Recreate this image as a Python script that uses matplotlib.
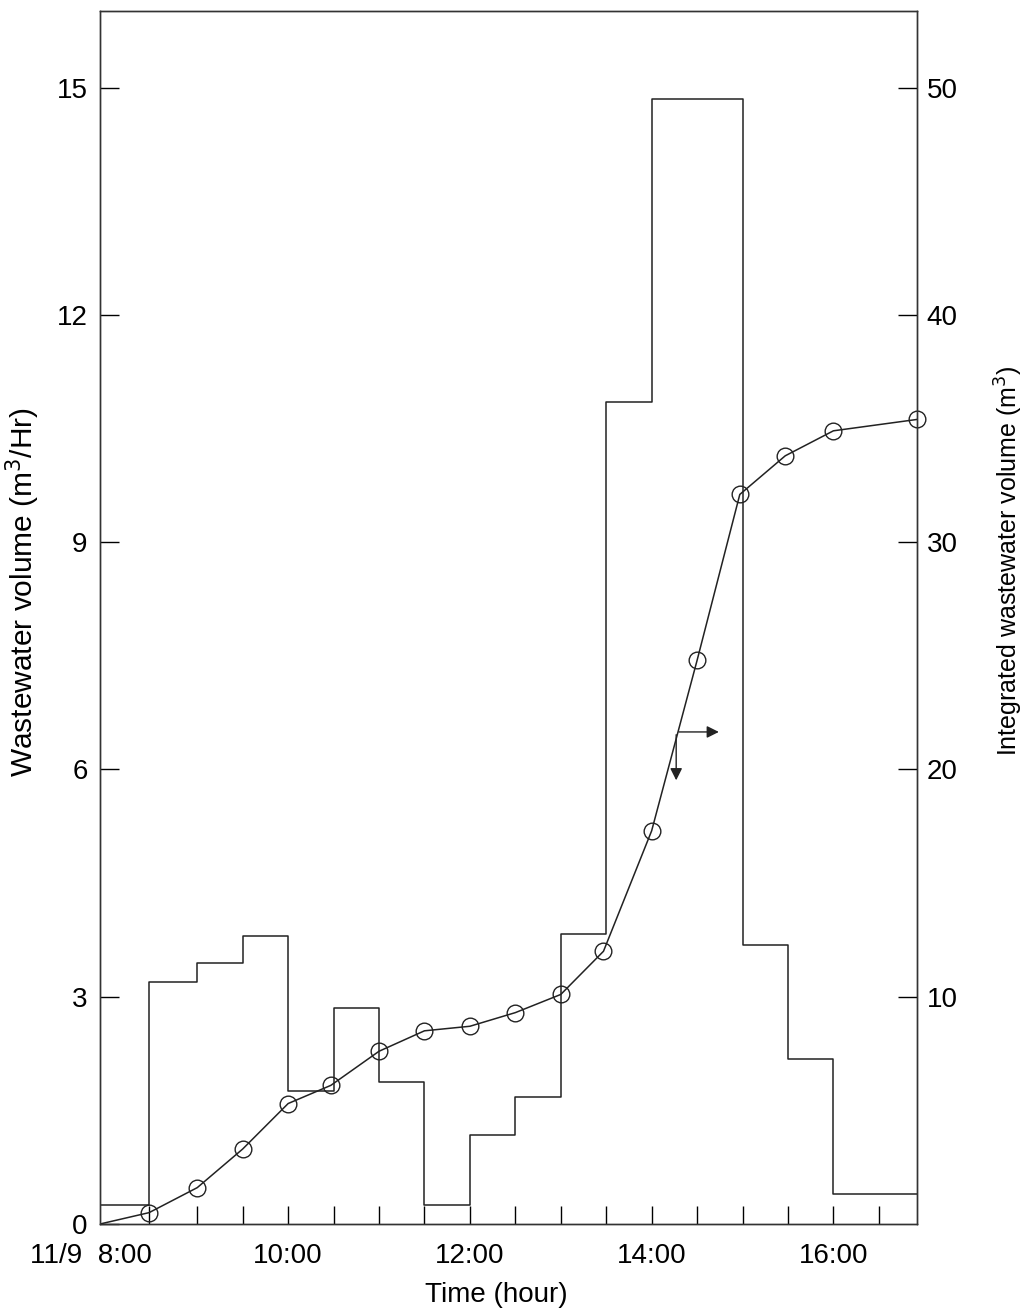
import matplotlib.pyplot as plt

plt.rcParams['font.family'] = ['Liberation Sans', 'DejaVu Sans']

# step series: hourly wastewater rate (m3/Hr), value holds from edge[i] to edge[i+1]
step_edges = [7.93, 8.47, 9.0, 9.5, 10.0, 10.5, 11.0, 11.5, 12.0, 12.5,
              13.0, 13.5, 14.0, 15.0, 15.5, 16.0, 16.92]
step_rate = [0.25, 3.2, 3.45, 3.8, 1.75, 2.85, 1.87, 0.25, 1.17, 1.68,
             3.83, 10.85, 14.85, 3.68, 2.18, 0.4]

# integrated volume (m3)
cum_time = [8.47, 9.0, 9.5, 10.0, 10.47, 11.0, 11.5, 12.0, 12.5, 13.0,
            13.47, 14.0, 14.5, 14.97, 15.47, 16.0, 16.92]
cum_vol = [0.5, 1.6, 3.3, 5.3, 6.1, 7.6, 8.5, 8.7, 9.3, 10.1,
           12.0, 17.3, 24.8, 32.1, 33.8, 34.9, 35.4]

x_min, x_max = 7.93, 16.92
fs = 20
fig = plt.figure(figsize=(10.27, 13.14), dpi=100)
ax = fig.add_axes([0.0974, 0.0685, 0.7955, 0.9231])
ax2 = ax.twinx()

ax.step(step_edges, step_rate + [step_rate[-1]], where='post', color='#222222', lw=1.1)
ax2.plot([x_min] + cum_time, [0] + cum_vol, color='#222222', lw=1.1)
ax2.plot(cum_time, cum_vol, 'o', ms=12, mfc='none', mec='#222222', mew=1.0, clip_on=False)

# arrows showing which axis each curve belongs to
ax2.annotate('', xy=(14.77, 21.65), xytext=(14.27, 21.65),
             arrowprops=dict(arrowstyle='-|>', color='#222222', lw=1, mutation_scale=18))
ax2.annotate('', xy=(14.27, 19.4), xytext=(14.27, 21.65),
             arrowprops=dict(arrowstyle='-|>', color='#222222', lw=1, mutation_scale=18))

ax.set_xlim(x_min, x_max)
ax.set_ylim(0, 16.01)
ax2.set_ylim(0, 53.37)

ax.set_yticks([0, 3, 6, 9, 12, 15])
ax2.set_yticks([10, 20, 30, 40, 50])

half_hours = [8.47] + [9.0 + 0.5 * i for i in range(16)]
tick_labels = []
for t in half_hours:
    if abs(t - round(t)) < 0.01 and int(round(t)) in (10, 12, 14, 16):
        tick_labels.append(f'{int(round(t))}:00')
    else:
        tick_labels.append('')
ax.set_xticks(half_hours)
ax.set_xticklabels(tick_labels)

ax.tick_params(axis='x', direction='in', length=13, width=1, pad=14, labelsize=fs)
ax.tick_params(axis='y', direction='in', length=14, width=1, pad=9, labelsize=fs)
ax2.tick_params(axis='y', direction='in', length=14, width=1, pad=7, labelsize=fs)

ax.text(7.83, -0.0157, '11/9  8:00', transform=ax.get_xaxis_transform(),
        ha='center', va='top', fontsize=fs)

for a in (ax, ax2):
    for s in a.spines.values():
        s.set_color('#333333')
        s.set_linewidth(1)

ax.set_xlabel('Time (hour)', fontsize=fs)
ax.xaxis.set_label_coords(0.485, -0.048)
ax.set_ylabel('Wastewater volume (m$^3$/Hr)', fontsize=21.5)
ax.yaxis.set_label_coords(-0.071, 0.521)
ax2.set_ylabel('Integrated wastewater volume (m$^3$)', fontsize=18)
ax2.yaxis.set_label_coords(1.093, 0.547)

fig.savefig('out.png', dpi=100)
